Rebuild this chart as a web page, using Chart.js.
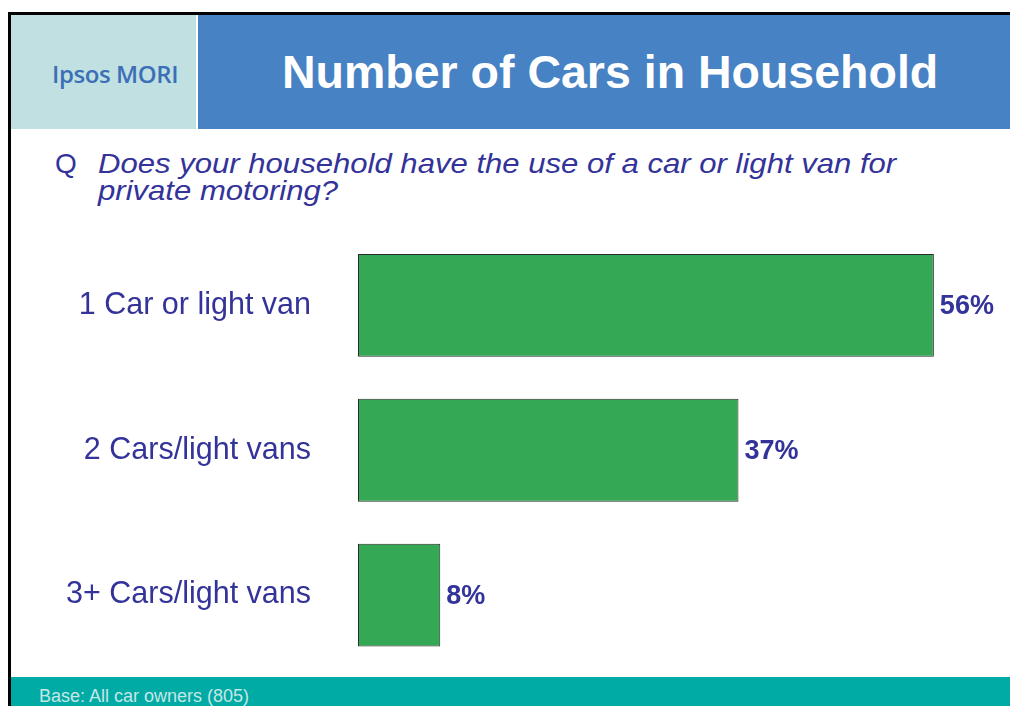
<!DOCTYPE html>
<html>
<head>
<meta charset="utf-8">
<script src="https://cdn.jsdelivr.net/npm/chart.js@4/dist/chart.umd.min.js"></script>
<style>
  body { margin: 0; width: 1010px; height: 706px; position: relative; overflow: hidden; background: #fff; font-family: "Liberation Sans", Arial, sans-serif; }
  .frame-top { position: absolute; left: 8px; top: 12px; width: 1002px; height: 3px; background: #000; }
  .frame-left { position: absolute; left: 8px; top: 12px; width: 3px; height: 694px; background: #000; }
  .logo { position: absolute; left: 11px; top: 15px; width: 185px; height: 114px; background: #c0e0e2; }
  .logo span { position: absolute; left: 41px; top: 47px; font-family: "Open Sans", sans-serif; font-weight: 600; font-size: 24px; line-height: 1; color: #3b6fb6; letter-spacing: -0.4px; }
  .head { position: absolute; left: 198px; top: 15px; width: 812px; height: 114px; background: #4682c4; }
  .head h1 { margin: 0; position: absolute; left: 84px; top: 34px; font-size: 46.5px; font-weight: bold; color: #fff; line-height: 1; }
  .q { position: absolute; left: 55px; top: 150px; font-size: 28px; color: #333399; line-height: 27px; }
  .q .qq { position: absolute; left: 0; top: 0; }
  .q .qt { position: absolute; left: 43px; top: 0; font-style: italic; white-space: nowrap; transform: scaleX(1.11); transform-origin: 0 0; }
  .foot { position: absolute; left: 11px; top: 677px; width: 999px; height: 29px; background: #00aba5; }
  .foot span { position: absolute; left: 28px; top: 10px; font-size: 18px; color: #c8e6e6; line-height: 1; }
  #wrap { position: absolute; left: 0; top: 220px; width: 1010px; height: 457px; }
</style>
</head>
<body>
<div class="logo"><span>Ipsos MORI</span></div>
<div class="head"><h1>Number of Cars in Household</h1></div>
<div class="frame-top"></div>
<div class="frame-left"></div>
<div class="q"><span class="qq">Q</span><span class="qt">Does your household have the use of a car or light van for<br>private motoring?</span></div>
<div id="wrap"><canvas id="barChart"></canvas></div>
<div class="foot"><span>Base: All car owners (805)</span></div>
<script>
var categories = ['1 Car or light van', '2 Cars/light vans', '3+ Cars/light vans'];
var shares = [56, 37, 8];

// draws the "56%" style labels next to each bar
var valueLabels = {
  id: 'valueLabels',
  afterDatasetsDraw: function(chart) {
    var ctx = chart.ctx;
    var meta = chart.getDatasetMeta(0);
    ctx.save();
    ctx.font = 'bold 27px "Liberation Sans", Arial, sans-serif';
    ctx.fillStyle = '#333399';
    ctx.textAlign = 'left';
    ctx.textBaseline = 'middle';
    meta.data.forEach(function(bar, i) {
      ctx.fillText(shares[i] + '%', bar.x + 6, bar.y + 1);
    });
    ctx.restore();
  }
};

var ctxB = document.getElementById('barChart').getContext('2d');
var myBarChart = new Chart(ctxB, {
  type: 'bar',
  data: {
    labels: categories,
    datasets: [
      {
        data: shares,
        backgroundColor: '#35a855',
        borderColor: '#2b2b2b',
        borderWidth: 1,
        borderSkipped: false,
        categoryPercentage: 1,
        barPercentage: 0.71,
      },
    ],
  },
  options: {
    indexAxis: 'y',
    responsive: true,
    maintainAspectRatio: false,
    animation: false,
    layout: { padding: { left: 0, right: 35, top: 13, bottom: 9.5 } },
    plugins: { legend: { display: false }, tooltip: { enabled: false } },
    scales: {
      x: { display: false, min: 0, max: 60 },
      y: {
        grid: { display: false, drawTicks: false },
        border: { display: false },
        ticks: {
          padding: 47,
          color: '#333399',
          font: { family: '"Liberation Sans", Arial, sans-serif', size: 30.5 },
        },
        afterFit: function(scale) {
          scale.width = 358;
          scale.paddingTop = 0;
          scale.paddingBottom = 0;
        },
      },
    },
  },
  plugins: [valueLabels],
});
</script>
</body>
</html>
